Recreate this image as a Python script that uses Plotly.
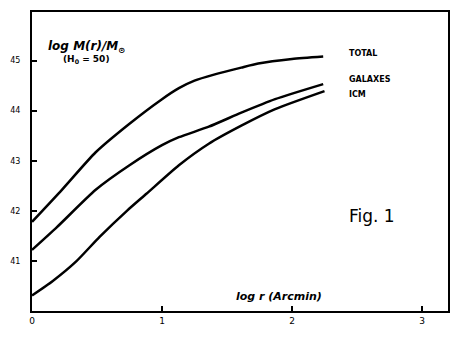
import plotly.graph_objects as go

# log r (arcmin) sample points for each curve
x_total = [0.0, 0.23, 0.49, 0.75, 1.00, 1.13, 1.25, 1.40, 1.61, 1.74, 2.00, 2.24]
y_total = [41.78, 42.42, 43.17, 43.74, 44.23, 44.45, 44.60, 44.72, 44.86, 44.94, 45.03, 45.08]

x_gal = [0.0, 0.19, 0.49, 0.75, 1.00, 1.13, 1.36, 1.61, 1.87, 2.24]
y_gal = [41.22, 41.67, 42.42, 42.91, 43.31, 43.47, 43.68, 43.96, 44.23, 44.53]

x_icm = [0.0, 0.16, 0.34, 0.52, 0.73, 0.88, 1.13, 1.36, 1.61, 1.87, 2.25]
y_icm = [40.31, 40.60, 40.99, 41.48, 42.00, 42.34, 42.91, 43.34, 43.70, 44.03, 44.39]

x_ticks = [0, 1, 2, 3]
y_ticks = [41, 42, 43, 44, 45]

fig = go.Figure()

for xs, ys, name in [(x_total, y_total, 'TOTAL'),
                     (x_gal, y_gal, 'GALAXES'),
                     (x_icm, y_icm, 'ICM')]:
    fig.add_trace(go.Scatter(
        x=xs, y=ys, mode='lines', name=name,
        line=dict(color='black', width=2.5, shape='spline', smoothing=0.6)
    ))

hand = dict(family='DejaVu Sans', color='black')

# curve labels on the right
fig.add_annotation(x=2.42, y=45.14, text='<b>TOTAL</b>', showarrow=False,
                   xanchor='left', font=dict(size=8, **hand))
fig.add_annotation(x=2.42, y=44.63, text='<b>GALAXES</b>', showarrow=False,
                   xanchor='left', font=dict(size=8, **hand))
fig.add_annotation(x=2.42, y=44.33, text='<b>ICM</b>', showarrow=False,
                   xanchor='left', font=dict(size=8, **hand))

# axis titles written inside the frame
fig.add_annotation(x=0.11, y=45.28, text='<i><b>log M(r)/M<sub>⊙</sub></b></i>', showarrow=False,
                   xanchor='left', font=dict(size=12, **hand))
fig.add_annotation(x=0.22, y=45.03, text='<b>(H<sub>0</sub> = 50)</b>', showarrow=False,
                   xanchor='left', font=dict(size=9, **hand))
fig.add_annotation(x=1.55, y=40.28, text='<i><b>log r (Arcmin)</b></i>', showarrow=False,
                   xanchor='left', font=dict(size=11, **hand))
fig.add_annotation(x=2.42, y=41.89, text='Fig. 1', showarrow=False,
                   xanchor='left', font=dict(size=17, **hand))

fig.update_xaxes(
    range=[0, 3.2], tickvals=x_ticks, ticktext=[str(t) for t in x_ticks],
    ticks='inside', ticklen=5, tickwidth=2, tickcolor='black',
    showline=True, linecolor='black', linewidth=2, mirror=True,
    showgrid=False, zeroline=False,
    tickfont=dict(size=9, family='DejaVu Sans', color='black')
)
fig.update_yaxes(
    range=[40.0, 45.97], tickvals=y_ticks, ticktext=[str(t) for t in y_ticks],
    ticks='inside', ticklen=5, tickwidth=2, tickcolor='black',
    showline=True, linecolor='black', linewidth=2, mirror=True,
    showgrid=False, zeroline=False, ticklabelstandoff=8,
    tickfont=dict(size=8, family='DejaVu Sans', color='black')
)

# the page adds an 8px body margin, so the figure is sized to fit inside it
fig.update_layout(
    width=455, height=335,
    margin=dict(l=23, r=15, t=2, b=32),
    plot_bgcolor='white', paper_bgcolor='white',
    showlegend=False
)

fig.write_html("out.html")
